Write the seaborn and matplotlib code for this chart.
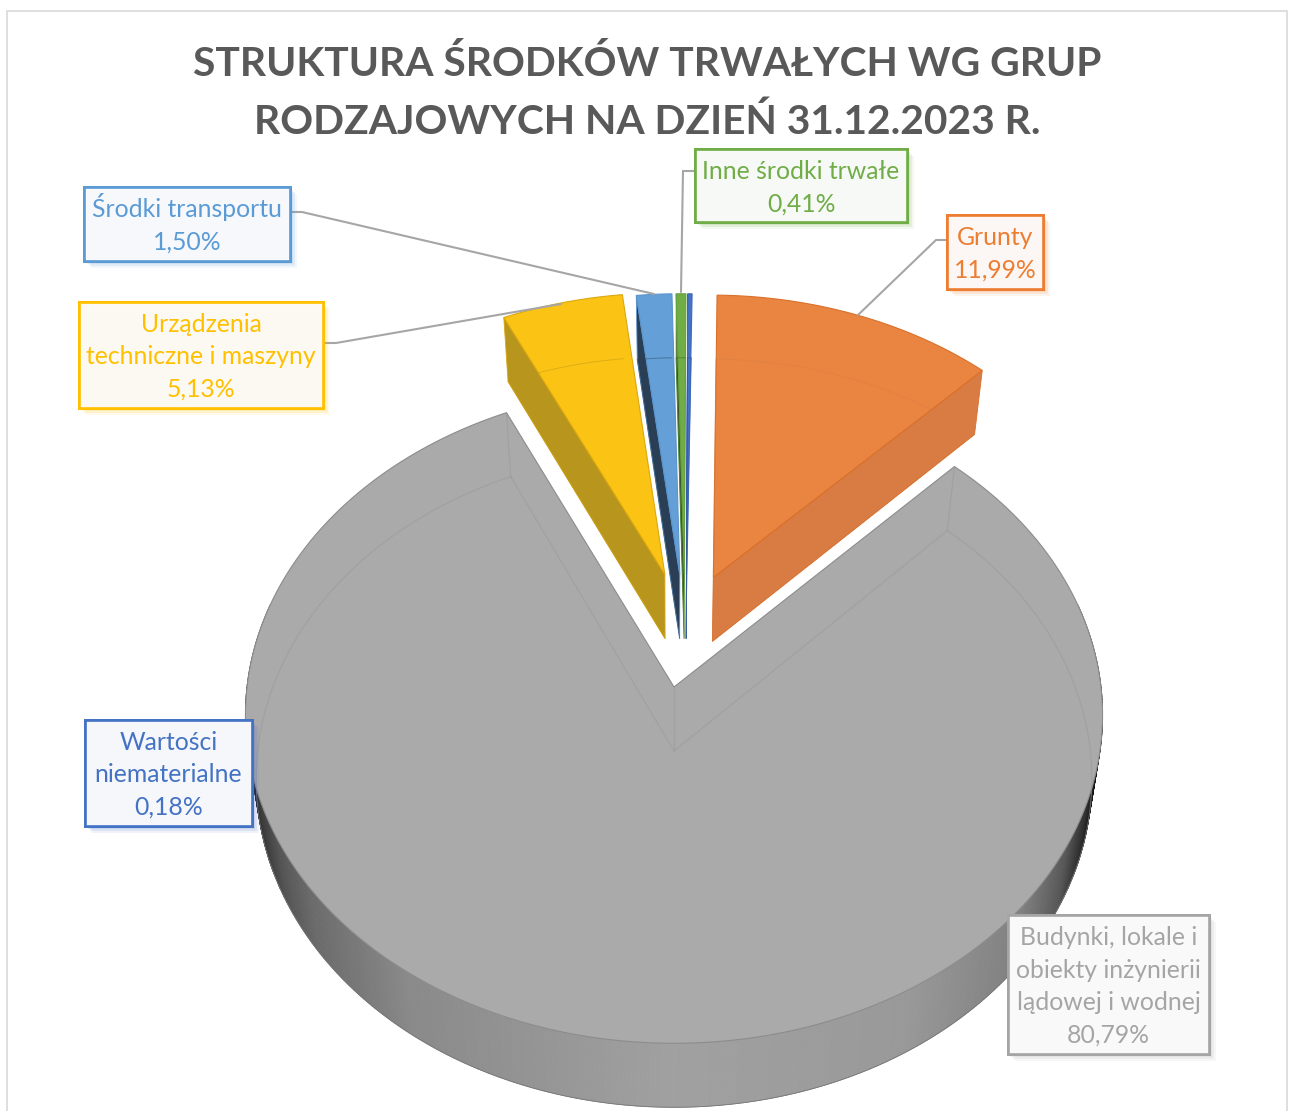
import numpy as np
import matplotlib
matplotlib.use('Agg')
import matplotlib.pyplot as plt
import matplotlib.patches as mpatches
import matplotlib.patheffects as pe
from matplotlib.collections import PolyCollection
from matplotlib.colors import to_rgb, to_rgba
import seaborn as sns

# Data
title_lines = "STRUKTURA ŚRODKÓW TRWAŁYCH WG GRUP\nRODZAJOWYCH NA DZIEŃ 31.12.2023 R."
categories = ["Grunty", "Budynki, lokale i\nobiekty inżynierii\nlądowej i wodnej",
              "Urządzenia\ntechniczne i maszyny", "Środki transportu",
              "Inne środki trwałe", "Wartości\nniematerialne"]
shares = [11.99, 80.79, 5.13, 1.50, 0.41, 0.18]
value_labels = ["11,99%", "80,79%", "5,13%", "1,50%", "0,41%", "0,18%"]

# Kleuren en opmaak
top_colors = ["#E98541", "#AAAAAA", "#FBC314", "#659FD7", "#70AD47", "#4472C4"]
wall_colors = ["#D87C44", "#AAAAAA", "#B8951C", "#2A3F55", "#3A5528", "#2B4478"]
line_colors = ["#D9702A", "#8C8C8C", "#D9A810", "#5A94CC", "#66A03F", "#3E68B4"]
text_colors = ["#ED7D31", "#A5A5A5", "#FFC000", "#5B9BD5", "#70AD47", "#4472C4"]
box_fills = ["#FDF8F5", "#FAFAFA", "#FCFAF4", "#F7F9FD", "#F8FAF7", "#F6F8FB"]

# Uitsparing per segment in het vlak van de taart, en straal
explode_u = [0.095, 0.0, -0.022, 0.014, 0.025, 0.03]
explode_v = [-0.346, 0.0, -0.355, -0.355, -0.355, -0.355]
radius = [0.993, 1.0, 0.992, 0.989, 0.989, 0.989]

# Labelvakken: x0, y0, x1, y1 in pixels
boxes = [(947, 215, 1043, 289), (1008, 915, 1209, 1054), (79, 302, 323, 408),
         (84, 187, 290, 261), (695, 149, 907, 222), (85, 720, 252, 826)]
text_shift = [2, 2, 2, -1, 2, 2]
leaders = [[(947, 240), (936, 240), (858, 315)],
           [(324, 343), (336, 343), (561, 304)],
           [(291, 212), (302, 212), (654, 294)],
           [(694, 171), (683, 171), (681, 292)]]

CX, CY = 674, 687
A0, B0, K = 427, 326, 0.085
FIRST_ANGLE = 1.0
DEPTH = 64
BOTTOM_X = 0.975


def project(u, v, bottom=False):
    p = 1 / (1 - K * v)
    x = A0 * u * p
    y = B0 * v * p
    if bottom:
        return CX + BOTTOM_X * x, CY + y + DEPTH
    return CX + x, CY + y


def slice_outline(start, end, ux, vx, r, bottom=False):
    th = np.radians(np.linspace(start, end, max(int(end - start) * 2, 6)))
    u = np.r_[ux, ux + r * np.sin(th)]
    v = np.r_[vx, vx - r * np.cos(th)]
    return project(u, v, bottom)


sns.set_theme(style="white")
plt.rcParams['font.family'] = ['Lato', 'DejaVu Sans']

fig = plt.figure(figsize=(12.93, 11.11), dpi=100, facecolor='white')
ax = fig.add_axes([0, 0, 1, 1])
ax.set_xlim(0, 1293)
ax.set_ylim(1111, 0)
ax.axis('off')

# Kader van de grafiek
ax.add_patch(mpatches.Rectangle((7, 11), 1280, 1120, fc='white', ec='#D9D9D9', lw=1.2, zorder=0))

edges = FIRST_ANGLE + np.r_[0, np.cumsum(shares)] * 3.6

# Rand van de grote taartpunt, donker naar de zijkanten
th = np.radians(np.linspace(max(edges[1], 75), min(edges[2], 285), 420))
ux, vx = np.sin(th), -np.cos(th)
xt, yt = project(ux, vx)
xb, yb = project(ux, vx, bottom=True)
quads = [[(xt[i], yt[i]), (xt[i + 1], yt[i + 1]), (xb[i + 1], yb[i + 1]), (xb[i], yb[i])]
         for i in range(len(th) - 1)]
t = (xt[:-1] - CX) / A0
grey = np.interp(t, [-1, -0.985, -0.93, -0.85, -0.62, 0, 0.55, 0.82, 0.92, 0.97, 1],
                 [0.12, 0.22, 0.33, 0.42, 0.54, 0.63, 0.6, 0.5, 0.34, 0.18, 0.05])
rim = PolyCollection(quads, facecolors=[(g, g, g) for g in grey], edgecolors='face', lw=0.6, zorder=2)
ax.add_collection(rim)
ax.plot(xb, yb, color='#777777', lw=0.6, zorder=2)

order = [1, 2, 3, 4, 5, 0]
for n, i in enumerate(order):
    start, end = edges[i], edges[i + 1]
    z = 3 + n * 0.1
    ux0, vx0, r = explode_u[i], explode_v[i], radius[i]
    x_t, y_t = slice_outline(start, end, ux0, vx0, r)
    x_b, y_b = slice_outline(start, end, ux0, vx0, r, bottom=True)
    if i != 1:
        # Zichtbare zijwand: bij Grunty de rechterkant, anders de linkerkant
        a = -1 if i == 0 else 1
        wall_x = [x_t[0], x_t[a], x_b[a], x_b[0]]
        wall_y = [y_t[0], y_t[a], y_b[a], y_b[0]]
        ax.fill(x_b, y_b, color=top_colors[i], lw=0, zorder=z)
        ax.fill(wall_x, wall_y, facecolor=wall_colors[i], edgecolor=line_colors[i], lw=0.6, zorder=z + 0.01)
    ax.fill(x_t, y_t, facecolor=top_colors[i], edgecolor=line_colors[i], lw=0.8, zorder=z + 0.02)

    # Doorschijnende onderrand
    if i == 1:
        arc = np.radians(np.linspace(start, end, 500))
        arc = arc[-np.cos(arc) < 0.12]
        gx, gy = project(np.sin(arc), -np.cos(arc), bottom=True)
        right = arc < np.pi
        ghost = dict(color='#9A9A9A', lw=0.9, alpha=0.55, zorder=z + 0.03)
        ax.plot(gx[right], gy[right], **ghost)
        ax.plot(gx[~right], gy[~right], **ghost)
        ax.plot([x_b[1], x_b[0], x_b[-1]], [y_b[1], y_b[0], y_b[-1]], **ghost)
        for j in (1, -1, 0):
            ax.plot([x_t[j], x_b[j]], [y_t[j], y_b[j]], **ghost)
    else:
        ax.plot(x_b, y_b, color=wall_colors[i], lw=0.7, alpha=0.45, zorder=z + 0.03)

# Verbindingslijnen
for pts in leaders:
    ax.plot(*zip(*pts), color='#A6A6A6', lw=1.5, zorder=6, solid_joinstyle='miter')

# Labels
for i, (x0, y0, x1, y1) in enumerate(boxes):
    box_shadow = [pe.withSimplePatchShadow(offset=(o, -o), shadow_rgbFace=to_rgb(text_colors[i]), alpha=a)
                  for o, a in ((5, 0.08), (3.5, 0.12), (2, 0.15))]
    box = mpatches.Rectangle((x0, y0), x1 - x0, y1 - y0, fc=to_rgba(box_fills[i], 0.95), ec=text_colors[i], lw=1.9,
                             zorder=7, path_effects=box_shadow + [pe.Normal()])
    ax.add_patch(box)
    ax.text((x0 + x1) / 2, (y0 + y1) / 2 + text_shift[i], categories[i] + "\n" + value_labels[i],
            color=text_colors[i], fontsize=17.8, ha='center', va='center', linespacing=1.5, zorder=8)

ax.text(647, 93, title_lines, color='#595959', fontsize=29.3, fontweight='bold',
        ha='center', va='center', linespacing=1.67, zorder=8)

fig.savefig('out.png', dpi=100, facecolor='white')
